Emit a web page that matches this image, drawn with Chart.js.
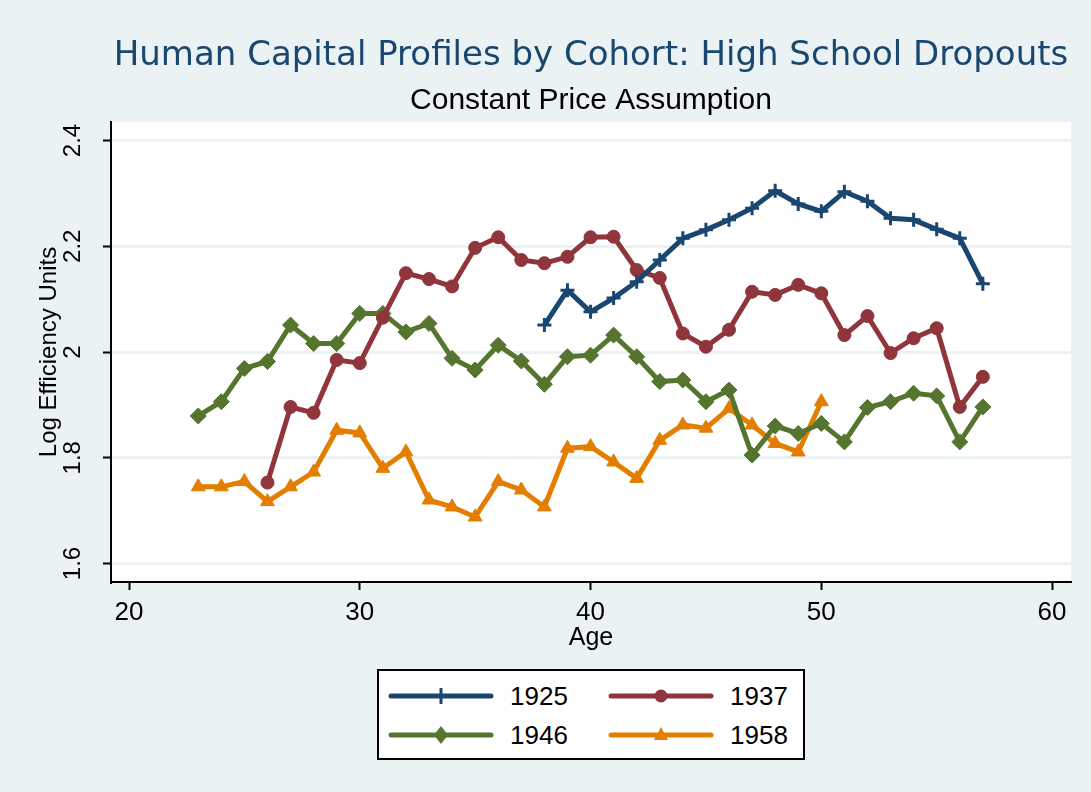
<!DOCTYPE html>
<html lang="en">
<head>
<meta charset="UTF-8">
<title>Human Capital Profiles by Cohort</title>
<script src="https://cdn.jsdelivr.net/npm/chart.js@4.4.1/dist/chart.umd.min.js"></script>
<style>
  html, body { margin: 0; padding: 0; background: #eaf2f3; }
  #wrap { position: relative; width: 1091px; height: 792px; }
  #chart { position: absolute; left: 0; top: 0; }
  #legend {
    position: absolute; left: 377px; top: 669px; width: 428px; height: 91px;
    box-sizing: border-box; background: #fff; border: 2px solid #000;
    font-family: "Liberation Sans", Arial, sans-serif; font-size: 26px; color: #000;
  }
  .item { position: absolute; display: flex; align-items: center; height: 24px; }
  .item span { margin-left: 16px; line-height: 24px; }
</style>
</head>
<body>
<div id="wrap">
  <canvas id="chart" width="1091" height="792"></canvas>
  <div id="legend"></div>
</div>
<script>
// cohorts
const cohorts = ['1925', '1937', '1946', '1958'];
const colors = ['#1a476f', '#90353b', '#55752f', '#e37e00'];
const markers = ['cross', 'circle', 'rectRot', 'triangle'];

// ages for each cohort
const ages1925 = [38, 39, 40, 41, 42, 43, 44, 45, 46, 47, 48, 49, 50, 51, 52, 53, 54, 55, 56, 57];
const ages1937 = [26, 27, 28, 29, 30, 31, 32, 33, 34, 35, 36, 37, 38, 39, 40, 41, 42, 43, 44, 45, 46, 47, 48, 49, 50, 51, 52, 53, 54, 55, 56, 57];
const ages1946 = [23, 24, 25, 26, 27, 28, 29, 30, 31, 32, 33, 34, 35, 36, 37, 38, 39, 40, 41, 42, 43, 44, 45, 46, 47, 48, 49, 50, 51, 52, 53, 54, 55, 56, 57];
const ages1958 = [23, 24, 25, 26, 27, 28, 29, 30, 31, 32, 33, 34, 35, 36, 37, 38, 39, 40, 41, 42, 43, 44, 45, 46, 47, 48, 49, 50];

// log efficiency units
const vals1925 = [2.051, 2.117, 2.076, 2.102, 2.133, 2.174, 2.215, 2.231, 2.250, 2.272, 2.305, 2.280, 2.266, 2.303, 2.285, 2.253, 2.250, 2.232, 2.215, 2.129];
const vals1937 = [1.753, 1.896, 1.885, 1.985, 1.979, 2.065, 2.149, 2.138, 2.124, 2.197, 2.217, 2.174, 2.168, 2.180, 2.217, 2.218, 2.155, 2.140, 2.035, 2.010, 2.042, 2.114, 2.108, 2.127, 2.111, 2.032, 2.068, 1.998, 2.026, 2.045, 1.896, 1.953];
const vals1946 = [1.879, 1.906, 1.969, 1.982, 2.051, 2.016, 2.016, 2.073, 2.073, 2.038, 2.054, 1.988, 1.966, 2.013, 1.983, 1.939, 1.991, 1.994, 2.032, 1.991, 1.944, 1.947, 1.906, 1.928, 1.805, 1.860, 1.846, 1.865, 1.830, 1.895, 1.906, 1.922, 1.917, 1.830, 1.896];
const vals1958 = [1.745, 1.745, 1.755, 1.717, 1.745, 1.773, 1.852, 1.847, 1.780, 1.811, 1.720, 1.707, 1.688, 1.755, 1.739, 1.707, 1.818, 1.821, 1.792, 1.761, 1.833, 1.862, 1.856, 1.893, 1.862, 1.827, 1.811, 1.906];

// axis ticks
const xTicks = [20, 30, 40, 50, 60];
const yTicks = [1.6, 1.8, 2, 2.2, 2.4];

const allAges = [ages1925, ages1937, ages1946, ages1958];
const allVals = [vals1925, vals1937, vals1946, vals1958];

const datasets = cohorts.map((name, k) => ({
  label: name,
  data: allAges[k].map((a, i) => ({ x: a, y: allVals[k][i] })),
  borderColor: colors[k],
  backgroundColor: colors[k],
  borderWidth: 5,
  pointStyle: markers[k],
  pointRadius: k === 0 ? 7 : (k === 1 ? 6.5 : 8),
  pointBorderWidth: k === 0 ? 3 : 1,
  pointBackgroundColor: colors[k],
  pointBorderColor: colors[k],
  tension: 0
}));

// white plot region
const plotBg = {
  id: 'plotBg',
  beforeDraw(chart) {
    const { ctx, chartArea: a } = chart;
    ctx.save();
    ctx.fillStyle = '#ffffff';
    ctx.fillRect(a.left, a.top, a.right - a.left, a.bottom - a.top);
    ctx.restore();
  }
};

new Chart(document.getElementById('chart'), {
  type: 'line',
  data: { datasets },
  plugins: [plotBg],
  options: {
    responsive: false,
    animation: false,
    layout: { padding: { left: 0, right: 20, top: 0, bottom: 151 } },
    plugins: {
      legend: { display: false },
      tooltip: { enabled: false },
      title: {
        display: true,
        fullSize: false,
        text: 'Human Capital Profiles by Cohort: High School Dropouts',
        color: '#1a476f',
        font: { family: 'DejaVu Sans', size: 34, weight: 'normal', lineHeight: 1.2 },
        padding: { top: 36, bottom: 6 }
      },
      subtitle: {
        display: true,
        fullSize: false,
        text: 'Constant Price Assumption',
        color: '#000',
        font: { family: 'Liberation Sans', size: 30, weight: 'normal', lineHeight: 1.2 },
        padding: { top: 0, bottom: 3.2 }
      }
    },
    scales: {
      x: {
        type: 'linear',
        min: 19.22,
        max: 60.82,
        afterBuildTicks: s => { s.ticks = xTicks.map(v => ({ value: v })); },
        grid: { drawOnChartArea: false, drawTicks: true, tickLength: 8, tickColor: '#000', tickWidth: 2 },
        border: { display: true, color: '#000', width: 2 },
        ticks: {
          color: '#000', padding: 10, maxRotation: 0,
          font: { family: 'Liberation Sans', size: 26, lineHeight: 1 },
          callback: v => String(v)
        },
        title: {
          display: true, text: 'Age', color: '#000', padding: 0,
          font: { family: 'Liberation Sans', size: 25, lineHeight: 0.2 }
        }
      },
      y: {
        type: 'linear',
        min: 1.565,
        max: 2.435,
        afterBuildTicks: s => { s.ticks = yTicks.map(v => ({ value: v })); },
        afterFit: s => { s.width = 111; },
        grid: { color: '#eaf2f3', lineWidth: 3, drawTicks: true, tickLength: 8, tickColor: '#000', tickWidth: 2 },
        border: { display: true, color: '#000', width: 2 },
        ticks: {
          color: '#000', padding: 13, minRotation: 90, maxRotation: 90, crossAlign: 'center',
          font: { family: 'Liberation Sans', size: 24, lineHeight: 1 },
          callback: v => String(v)
        },
        title: {
          display: true, text: 'Log Efficiency Units', color: '#000',
          padding: { top: 35, bottom: 0 },
          font: { family: 'Liberation Sans', size: 24, lineHeight: 1.2 }
        }
      }
    }
  }
});

// legend built from the same series arrays
function markerSvg(style, color) {
  if (style === 'cross') return `<line x1="53" y1="4" x2="53" y2="20" stroke="${color}" stroke-width="3"/>`;
  if (style === 'circle') return `<circle cx="53" cy="12" r="6.5" fill="${color}"/>`;
  if (style === 'rectRot') return `<polygon points="53,3 60,12 53,21 46,12" fill="${color}"/>`;
  return `<polygon points="53,4 60,17 46,17" fill="${color}"/>`;
}
const legend = document.getElementById('legend');
cohorts.forEach((name, k) => {
  const col = k % 2, row = Math.floor(k / 2);
  const div = document.createElement('div');
  div.className = 'item';
  div.style.left = (9 + col * 220) + 'px';
  div.style.top = (13 + row * 38.5) + 'px';
  div.innerHTML =
    `<svg width="106" height="24"><line x1="3" y1="12" x2="103" y2="12" stroke="${colors[k]}" stroke-width="5" stroke-linecap="round"/>${markerSvg(markers[k], colors[k])}</svg>` +
    `<span>${name}</span>`;
  legend.appendChild(div);
});
</script>
</body>
</html>
